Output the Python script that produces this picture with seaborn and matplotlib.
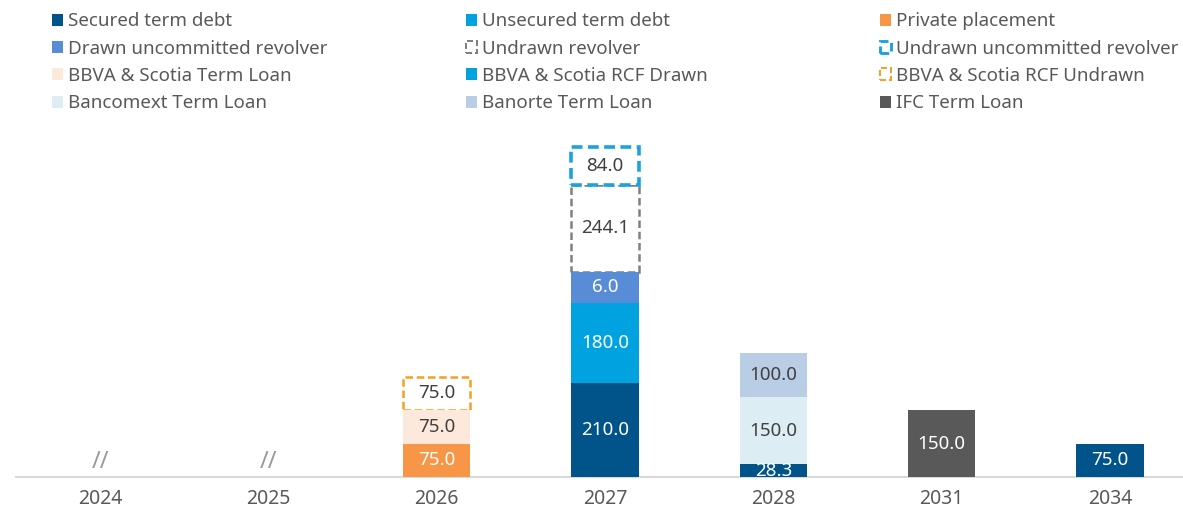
import matplotlib
matplotlib.use("Agg")
import matplotlib.pyplot as plt
from matplotlib.patches import Patch
import numpy as np
import seaborn as sns

sns.set_theme(style="white")
plt.rcParams['font.family'] = ['Noto Sans', 'DejaVu Sans']

# data
years = ['2024', '2025', '2026', '2027', '2028', '2031', '2034']
secured = [0, 0, 0, 210.0, 28.3, 0, 75.0]
unsecured = [0, 0, 0, 180.0, 0, 0, 0]
private = [0, 0, 75.0, 0, 0, 0, 0]
drawn_uncommitted = [0, 0, 0, 6.0, 0, 0, 0]
undrawn_revolver = [0, 0, 0, 244.1, 0, 0, 0]
undrawn_uncommitted = [0, 0, 0, 84.0, 0, 0, 0]
bbva_term = [0, 0, 75.0, 0, 0, 0, 0]
bbva_rcf_drawn = [0, 0, 0, 0, 0, 0, 0]
bbva_rcf_undrawn = [0, 0, 75.0, 0, 0, 0, 0]
bancomext = [0, 0, 0, 0, 150.0, 0, 0]
banorte = [0, 0, 0, 0, 100.0, 0, 0]
ifc = [0, 0, 0, 0, 0, 150.0, 0]
# the original draws these two segments not to scale
drawn_uncommitted_bar = [0, 0, 0, 70, 0, 0, 0]
undrawn_revolver_bar = [0, 0, 0, 195, 0, 0, 0]
no_data_years = ['2024', '2025']

dark_txt = '#404040'
grey_txt = '#595959'


def solid(c):
    return dict(facecolor=c, edgecolor='none', zorder=3)


def dashed(c, lw, z):
    return dict(facecolor='white', edgecolor=c, linestyle=(0, (3, 1.5)), linewidth=lw, zorder=z)


# label, values, drawn heights, style, label colour  (stacking order bottom -> top)
layers = [
    ('Secured term debt', secured, secured, solid('#00548A'), 'white'),
    ('Unsecured term debt', unsecured, unsecured, solid('#00A3E0'), 'white'),
    ('Private placement', private, private, solid('#F79646'), 'white'),
    ('Drawn uncommitted revolver', drawn_uncommitted, drawn_uncommitted_bar, solid('#588CD6'), 'white'),
    ('BBVA & Scotia Term Loan', bbva_term, bbva_term, solid('#FDE9DB'), dark_txt),
    ('BBVA & Scotia RCF Drawn', bbva_rcf_drawn, bbva_rcf_drawn, solid('#00A3E0'), 'white'),
    ('Bancomext Term Loan', bancomext, bancomext, solid('#DCEEF3'), dark_txt),
    ('Banorte Term Loan', banorte, banorte, solid('#B9CDE5'), dark_txt),
    ('IFC Term Loan', ifc, ifc, solid('#595959'), 'white'),
    ('BBVA & Scotia RCF Undrawn', bbva_rcf_undrawn, bbva_rcf_undrawn, dashed('#F5A023', 1.8, 2), dark_txt),
    ('Undrawn revolver', undrawn_revolver, undrawn_revolver_bar, dashed('#808080', 1.8, 2), dark_txt),
    ('Undrawn uncommitted revolver', undrawn_uncommitted, undrawn_uncommitted, dashed('#1BA3E0', 2.6, 4), dark_txt),
]

legend_order = [
    'Secured term debt', 'Unsecured term debt', 'Private placement',
    'Drawn uncommitted revolver', 'Undrawn revolver', 'Undrawn uncommitted revolver',
    'BBVA & Scotia Term Loan', 'BBVA & Scotia RCF Drawn', 'BBVA & Scotia RCF Undrawn',
    'Bancomext Term Loan', 'Banorte Term Loan', 'IFC Term Loan',
]

fig = plt.figure(figsize=(11.83, 5.09), dpi=100)
ax = fig.add_axes([16 / 1183, 32 / 509, 1178 / 1183, 339 / 509])

x = np.arange(len(years))
bottom = np.zeros(len(years))
width = 0.4
styles = {}
for name, vals, hts, style, tc in layers:
    hts = np.array(hts, dtype=float)
    styles[name] = style
    keep = hts > 0
    if keep.any():
        ax.bar(x[keep], hts[keep], width, bottom=bottom[keep], **style)
    for i, (v, h) in enumerate(zip(vals, hts)):
        if v > 0:
            ax.text(x[i], bottom[i] + h / 2, f'{v:.1f}', ha='center', va='center',
                    fontsize=13.5, color=tc, zorder=5, clip_on=True)
    bottom += hts

for y in no_data_years:
    ax.annotate('//', (years.index(y), 0), xytext=(0, 2), textcoords='offset points',
                ha='center', va='bottom', fontsize=17, color='#9a9a9a', zorder=5)

ax.set_xlim(-0.5, 6.5)
ax.set_ylim(0, 760)
ax.set_xticks(x, years)
ax.set_yticks([])
ax.tick_params(axis='x', length=0, pad=9, labelsize=14, labelcolor=grey_txt)
sns.despine(ax=ax, left=True)
ax.spines['bottom'].set_color('#d9d9d9')
ax.spines['bottom'].set_linewidth(1.5)

# legend: three columns placed by hand
col_x = [40 / 1183, 454 / 1183, 868 / 1183]
for c in range(3):
    names = legend_order[c::3]
    handles = []
    for n in names:
        st = dict(styles[n])
        st.pop('zorder')
        if st.get('linestyle') is not None:
            st['linewidth'] = st['linewidth'] * 0.8
        handles.append(Patch(label=n, **st))
    leg = fig.legend(handles=handles, loc='upper left', bbox_to_anchor=(col_x[c], 1.0),
                     frameon=False, fontsize=13.5, handlelength=0.6, handleheight=0.6,
                     handletextpad=0.25, labelspacing=0.5, borderaxespad=0.25)
    for t in leg.get_texts():
        t.set_color(grey_txt)

fig.savefig('out.png', dpi=100)
